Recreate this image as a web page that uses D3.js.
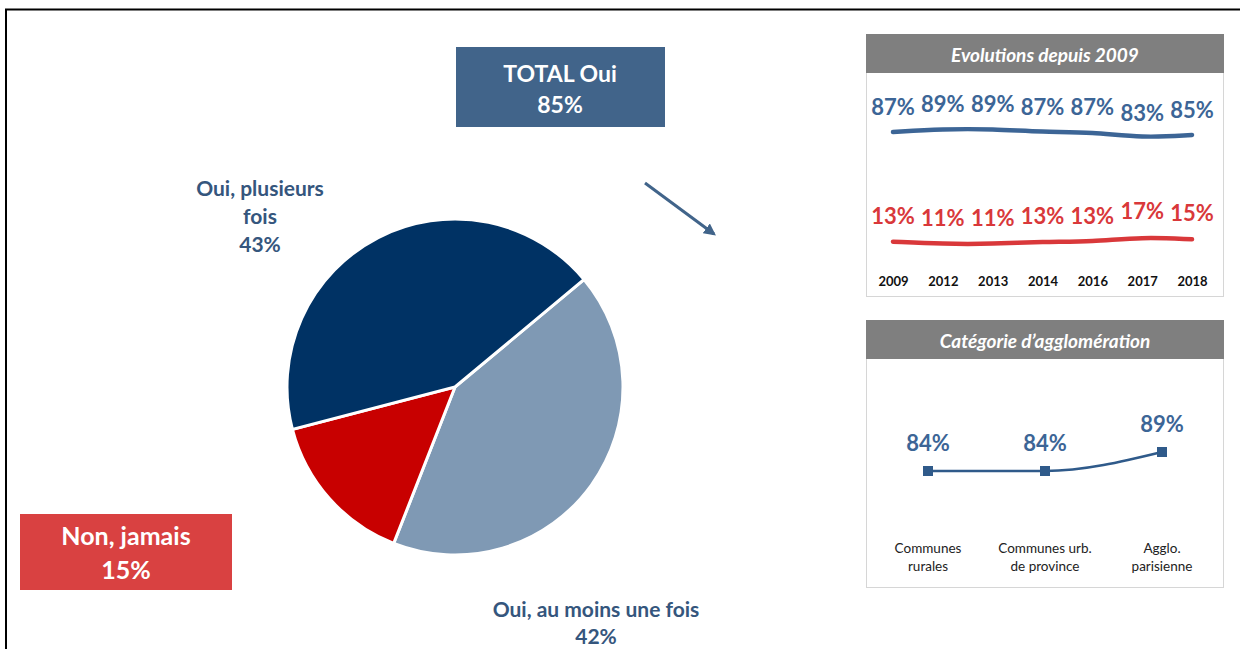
<!DOCTYPE html>
<html>
<head>
<meta charset="utf-8">
<script src="https://cdn.jsdelivr.net/npm/d3@7"></script>
<style>
  body { margin: 0; background: #fff; }
  svg { display: block; font-family: Lato, "Open Sans", sans-serif; }
</style>
</head>
<body>
<svg id="chart" width="1240" height="649"></svg>
<script>
// pie data (drawn clockwise from the upper-right boundary)
const pieLabels = ["Oui, au moins une fois", "Non, jamais", "Oui, plusieurs fois"];
const pieValues = [42, 15, 43];
const pieColors = ["#7f99b4", "#c80000", "#003264"];
const totalOui = 85;

// evolution panel
const years = ["2009", "2012", "2013", "2014", "2016", "2017", "2018"];
const ouiValues = [87, 89, 89, 87, 87, 83, 85];
const nonValues = [13, 11, 11, 13, 13, 17, 15];

// agglomeration panel
const agglo = [["Communes", "rurales"], ["Communes urb.", "de province"], ["Agglo.", "parisienne"]];
const aggloValues = [84, 84, 89];

const svg = d3.select("#chart");
const blue = "#41648a", txtBlue = "#35567d", lineBlue = "#3c6596", red = "#d9383a";

/* ========== FRAME ========== */
svg.append("path")
  .attr("d", "M6,649 V9.5 H1240")
  .attr("fill", "none").attr("stroke", "#000").attr("stroke-width", 2);

/* ========== PIE ========== */
const cx = 455, cy = 387, radius = 168;
const start = 50.2 * Math.PI / 180;
const pie = d3.pie().sort(null).startAngle(start).endAngle(start + 2 * Math.PI);
const arc = d3.arc().innerRadius(0).outerRadius(radius);

svg.append("g").attr("transform", `translate(${cx},${cy})`)
  .selectAll("path").data(pie(pieValues)).join("path")
  .attr("d", arc)
  .attr("fill", (d, i) => pieColors[i])
  .attr("stroke", "#fff").attr("stroke-width", 3);

// pie labels
function lines(g, arr, x, y, step, size, color) {
  g.append("text")
    .attr("text-anchor", "middle")
    .attr("font-weight", "bold").attr("font-size", size).attr("fill", color)
    .selectAll("tspan").data(arr).join("tspan")
    .attr("x", x).attr("y", (d, i) => y + i * step)
    .text(d => d);
}

lines(svg, ["Oui, plusieurs", "fois", pieValues[2] + "%"], 260, 196, 28, 21, txtBlue);
lines(svg, [pieLabels[0], pieValues[0] + "%"], 596, 617, 27, 21, txtBlue);

svg.append("rect").attr("x", 20).attr("y", 514).attr("width", 212).attr("height", 76).attr("fill", "#d94141");
lines(svg, [pieLabels[1], pieValues[1] + "%"], 126, 545, 34, 25, "#fff");

svg.append("rect").attr("x", 456).attr("y", 47).attr("width", 209).attr("height", 80).attr("fill", "#41648a");
lines(svg, ["TOTAL Oui", totalOui + "%"], 560, 82, 31, 23, "#fff");

// arrow
svg.append("defs").append("marker")
  .attr("id", "arr").attr("viewBox", "0 0 10 10").attr("refX", 8).attr("refY", 5)
  .attr("markerWidth", 4).attr("markerHeight", 4).attr("orient", "auto")
  .append("path").attr("d", "M0,0 L10,5 L0,10 z").attr("fill", blue);
svg.append("line")
  .attr("x1", 645).attr("y1", 183).attr("x2", 714).attr("y2", 234)
  .attr("stroke", blue).attr("stroke-width", 3).attr("marker-end", "url(#arr)");

/* ========== PANELS ========== */
function panel(y, h, title) {
  svg.append("rect").attr("x", 866.5).attr("y", y + 0.5).attr("width", 357).attr("height", h)
    .attr("fill", "#fff").attr("stroke", "#d6d6d6");
  svg.append("rect").attr("x", 866).attr("y", y).attr("width", 358).attr("height", 39).attr("fill", "#7f7f7f");
  svg.append("text").attr("x", 1045).attr("y", y + 28)
    .attr("text-anchor", "middle").attr("font-style", "italic").attr("font-weight", "bold")
    .attr("font-size", 19).attr("fill", "#fff").text(title);
}

panel(34, 262, "Evolutions depuis 2009");
panel(320, 267, "Catégorie d’agglomération");

// evolution lines
const xYear = d3.scalePoint().domain(years).range([893, 1192]);
const yOui = d3.scaleLinear().domain([83, 89]).range([138, 129]);
const yNon = d3.scaleLinear().domain([11, 17]).range([244, 237]);

function evo(values, yScale, color, off) {
  const line = d3.line().curve(d3.curveBasis)
    .x((d, i) => xYear(years[i])).y(d => yScale(d));
  svg.append("path").datum(values).attr("d", line)
    .attr("fill", "none").attr("stroke", color).attr("stroke-width", 4.5).attr("stroke-linecap", "round");
  svg.append("g").selectAll("text").data(values).join("text")
    .attr("x", (d, i) => xYear(years[i])).attr("y", d => yScale(d) - off)
    .attr("text-anchor", "middle").attr("font-weight", "bold").attr("font-size", 22)
    .attr("fill", color).text(d => d + "%");
}
evo(ouiValues, yOui, lineBlue, 17);
evo(nonValues, yNon, red, 18);

svg.append("g").attr("transform", "translate(0,277)")
  .call(d3.axisBottom(xYear).tickSize(0).tickPadding(0))
  .call(g => g.select(".domain").remove())
  .call(g => g.selectAll("text").attr("font-family", "Lato, sans-serif")
    .attr("font-weight", "bold").attr("font-size", 13).attr("fill", "#111"));

// agglomeration line
const xAgg = d3.scalePoint().domain(d3.range(agglo.length)).range([928, 1162]);
const yAgg = d3.scaleLinear().domain([84, 89]).range([471, 452]);

svg.append("path").datum(aggloValues)
  .attr("d", d3.line().curve(d3.curveMonotoneX).x((d, i) => xAgg(i)).y(d => yAgg(d)))
  .attr("fill", "none").attr("stroke", "#2f5a8a").attr("stroke-width", 2.5);
svg.append("g").selectAll("rect").data(aggloValues).join("rect")
  .attr("x", (d, i) => xAgg(i) - 5).attr("y", d => yAgg(d) - 5)
  .attr("width", 10).attr("height", 10).attr("fill", "#2f5a8a");
svg.append("g").selectAll("text").data(aggloValues).join("text")
  .attr("x", (d, i) => xAgg(i)).attr("y", d => yAgg(d) - 20)
  .attr("text-anchor", "middle").attr("font-weight", "bold").attr("font-size", 22)
  .attr("fill", lineBlue).text(d => d + "%");

agglo.forEach((a, i) => {
  svg.append("text").attr("text-anchor", "middle").attr("font-size", 13.5).attr("fill", "#222")
    .selectAll("tspan").data(a).join("tspan")
    .attr("x", xAgg(i)).attr("y", (d, j) => 553 + j * 18).text(d => d);
});
</script>
</body>
</html>
